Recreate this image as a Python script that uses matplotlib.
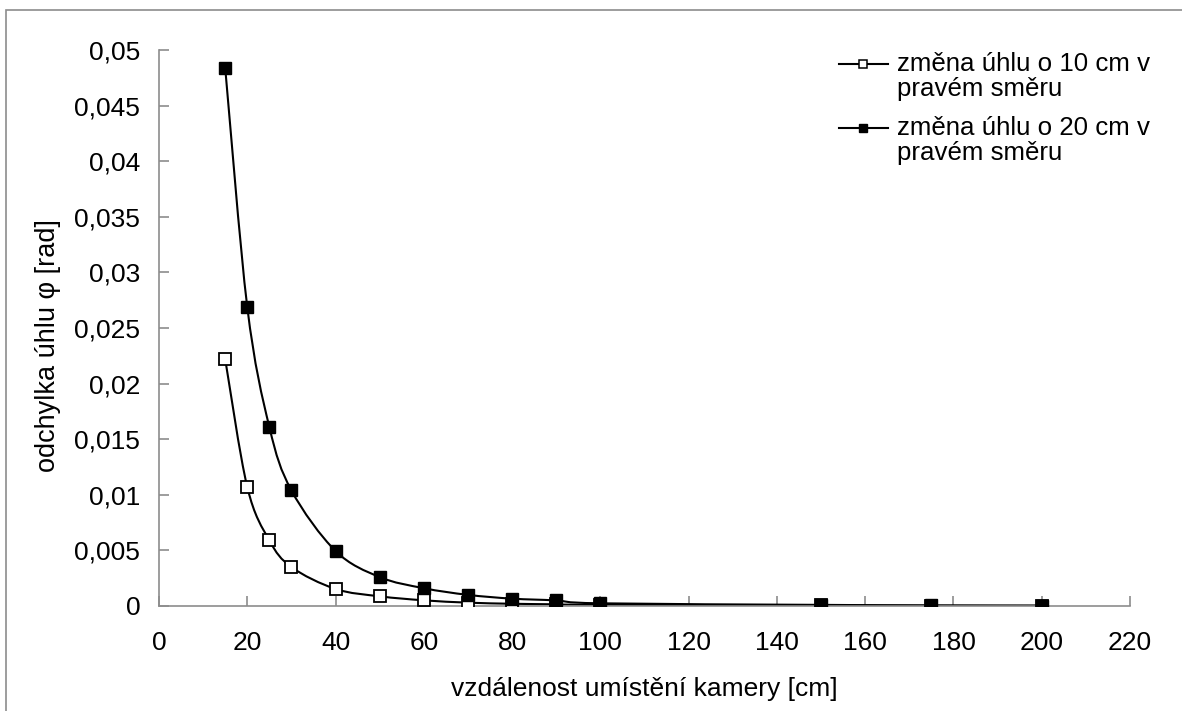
import numpy as np
import matplotlib.pyplot as plt
from matplotlib.path import Path
from matplotlib.patches import PathPatch, Rectangle
from matplotlib.legend_handler import HandlerLine2D
from matplotlib.ticker import FuncFormatter, MultipleLocator

plt.rcParams['font.family'] = ['Liberation Sans', 'DejaVu Sans']

# distance of the camera [cm]
distance = [15, 20, 25, 30, 40, 50, 60, 70, 80, 90, 100, 150, 175, 200]
# angle deviation [rad]
shift_10cm = [0.0222, 0.0107, 0.0059, 0.0035, 0.00153, 0.00087, 0.00051,
              0.0003, 0.0002, 0.00015, 0.0001, 0.00006, 0.00003, 0.00002]
shift_20cm = [0.0484, 0.0269, 0.0161, 0.0104, 0.00495, 0.0026, 0.0016,
              0.001, 0.00066, 0.0005, 0.00024, 0.0001, 0.00005, 0.00003]

label_10 = "změna úhlu o 10 cm v\npravém směru"
label_20 = "změna úhlu o 20 cm v\npravém směru"


def smooth_path(x, y):
    # excel-like smoothed line: cubic bezier through every point
    p = np.column_stack([x, y]).astype(float)
    n = len(p)
    verts = [p[0]]
    codes = [Path.MOVETO]
    for i in range(n - 1):
        p0 = p[i - 1] if i > 0 else p[i]
        p3 = p[i + 2] if i + 2 < n else p[i + 1]
        c1 = p[i] + (p[i + 1] - p0) / 6
        c2 = p[i + 1] - (p3 - p[i]) / 6
        verts += [c1, c2, p[i + 1]]
        codes += [Path.CURVE4] * 3
    return Path(verts, codes)


class FirstLineHandler(HandlerLine2D):
    # put the legend symbol on the first line of a two-line label
    def create_artists(self, legend, orig_handle, xdescent, ydescent,
                       width, height, fontsize, trans):
        arts = super().create_artists(legend, orig_handle, xdescent, ydescent,
                                      width, height, fontsize, trans)
        for a in arts:
            a.set_ydata(np.asarray(a.get_ydata()) + 0.5 * fontsize)
        return arts


fig = plt.figure(figsize=(11.82, 7.11), dpi=100)
ax = fig.add_axes([0.1345, 0.1477, 0.8215, 0.782])

for ys in (shift_10cm, shift_20cm):
    ax.add_patch(PathPatch(smooth_path(distance, ys), facecolor='none',
                           edgecolor='black', linewidth=1.5, zorder=2))

ax.plot(distance, shift_10cm, linestyle='none', marker='s', markersize=8,
        markerfacecolor='white', markeredgecolor='black', markeredgewidth=1.3, zorder=3)
ax.plot(distance, shift_20cm, linestyle='none', marker='s', markersize=8,
        markerfacecolor='black', markeredgecolor='black', zorder=4)

# legend handles
h1, = ax.plot([], [], color='black', lw=1.5, marker='s', markersize=5.5,
              markerfacecolor='white', markeredgecolor='black', markeredgewidth=1.1)
h2, = ax.plot([], [], color='black', lw=1.5, marker='s', markersize=5.5,
              markerfacecolor='black', markeredgecolor='black')
leg = ax.legend([h1, h2], [label_10, label_20], loc='upper right',
                bbox_to_anchor=(1150 / 1182, 1 - 52 / 711), bbox_transform=fig.transFigure,
                frameon=False, fontsize=18.6, borderpad=0, borderaxespad=0,
                handlelength=1.9, handletextpad=0.35, labelspacing=0.6,
                handler_map={h1: FirstLineHandler(), h2: FirstLineHandler()})
for t in leg.get_texts():
    t.set_linespacing(1.04)

ax.set_xlim(0, 220)
ax.set_ylim(0, 0.05)
ax.xaxis.set_major_locator(MultipleLocator(20))
ax.yaxis.set_major_locator(MultipleLocator(0.005))
ax.yaxis.set_major_formatter(FuncFormatter(lambda v, p: ('%g' % round(v, 4)).replace('.', ',')))

for s in ('top', 'right'):
    ax.spines[s].set_visible(False)
for s in ('left', 'bottom'):
    ax.spines[s].set_color('#8c8c8c')
    ax.spines[s].set_linewidth(1.2)
ax.tick_params(direction='in', length=7, width=1.2, color='#8c8c8c',
               labelsize=19)
ax.tick_params(axis='y', pad=13.5)
ax.tick_params(axis='x', pad=18)

ax.set_xlabel("vzdálenost umístění kamery [cm]", fontsize=19)
ax.set_ylabel("odchylka úhlu φ [rad]", fontsize=19.5)
ax.xaxis.set_label_coords(0.5, -0.128)
ax.yaxis.set_label_coords(-0.101, 0.469)

fig.patches.append(Rectangle((6 / 1182, -0.01), 1.1, 1.01 - 10 / 711, transform=fig.transFigure,
                             fill=False, edgecolor='#8c8c8c', linewidth=1.2))

fig.savefig("out.png", dpi=100)
